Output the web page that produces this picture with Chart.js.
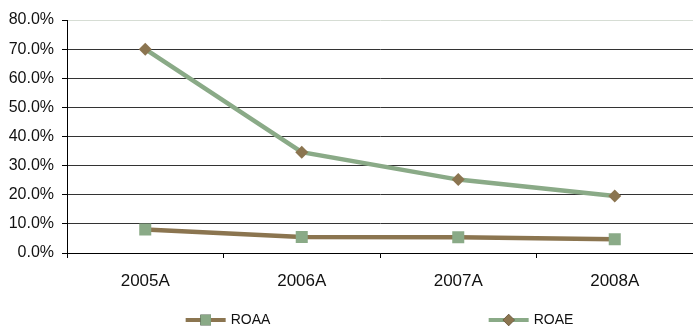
<!DOCTYPE html>
<html>
<head>
<meta charset="utf-8">
<script src="https://cdn.jsdelivr.net/npm/chart.js@4/dist/chart.umd.min.js"></script>
<style>
  html, body { margin: 0; padding: 0; background: #ffffff; }
  #wrap { width: 693px; height: 334px; }
</style>
</head>
<body>
<div id="wrap"><canvas id="c" width="693" height="334"></canvas></div>
<script>
// Return ratios by year, in percent
const years = ['2005A', '2006A', '2007A', '2008A'];
const roaa = [8.1, 5.5, 5.4, 4.7];
const roae = [70.0, 34.6, 25.2, 19.6];
const yTicks = [0, 10, 20, 30, 40, 50, 60, 70, 80];

const GREEN = '#8aaa87';
const BROWN = '#8b7550';
const FONT = 'Liberation Sans, Arial, sans-serif';

// Legend drawn under the plot: line sample with its marker, then the name
const lineLegend = {
  id: 'lineLegend',
  afterDraw(chart) {
    const ctx = chart.ctx;
    const area = chart.chartArea;
    const mid = (area.left + area.right) / 2;
    const y = 320;
    const offsets = [-152, 151];
    chart.data.datasets.forEach((ds, i) => {
      const label = ds.label;
      ctx.save();
      ctx.font = '14px ' + FONT;
      const tw = ctx.measureText(label).width;
      const itemW = 40 + 5 + tw;
      const x0 = mid + offsets[i] - itemW / 2;
      ctx.strokeStyle = ds.borderColor;
      ctx.lineWidth = 4;
      ctx.beginPath();
      ctx.moveTo(x0, y);
      ctx.lineTo(x0 + 40, y);
      ctx.stroke();
      Chart.helpers.drawPoint(ctx, {
        pointStyle: ds.pointStyle,
        radius: ds.legendMarkerRadius,
        borderWidth: 0
      }, x0 + 20, y);
      ctx.fillStyle = ds.pointBackgroundColor;
      ctx.fill();
      ctx.fillStyle = '#111111';
      ctx.textBaseline = 'middle';
      ctx.textAlign = 'left';
      ctx.fillText(label, x0 + 45, y);
      ctx.restore();
    });
  }
};

new Chart(document.getElementById('c'), {
  type: 'line',
  data: {
    labels: years,
    datasets: [
      {
        label: 'ROAA',
        data: roaa,
        borderColor: BROWN,
        borderWidth: 4.5,
        pointStyle: 'rect',
        pointRadius: 8.5,
        legendMarkerRadius: 7.5,
        pointBackgroundColor: GREEN,
        pointBorderWidth: 0,
        tension: 0
      },
      {
        label: 'ROAE',
        data: roae,
        borderColor: GREEN,
        borderWidth: 4.5,
        pointStyle: 'rectRot',
        pointRadius: 6.5,
        legendMarkerRadius: 6,
        pointBackgroundColor: BROWN,
        pointBorderWidth: 0,
        tension: 0
      }
    ]
  },
  options: {
    responsive: false,
    devicePixelRatio: 1,
    animation: false,
    layout: { autoPadding: false, padding: { top: 20, right: -2, left: 0, bottom: 0 } },
    plugins: {
      legend: { display: false },
      tooltip: { enabled: false }
    },
    scales: {
      x: {
        offset: true,
        afterFit(scale) { scale.height = 81; },
        grid: {
          offset: true,
          drawOnChartArea: false,
          drawTicks: true,
          tickLength: 5,
          color: '#000000'
        },
        border: { display: true, color: '#000000', width: 1 },
        ticks: {
          color: '#111111',
          padding: 13,
          font: { family: FONT, size: 17 }
        }
      },
      y: {
        min: 0,
        max: 80,
        afterFit(scale) { scale.width = 67; },
        afterBuildTicks(scale) { scale.ticks = yTicks.map(v => ({ value: v })); },
        grid: {
          color: ctx => (ctx.tick && ctx.tick.value === 80) ? '#d6ddd4' : '#333333',
          tickColor: '#000000',
          tickLength: 5,
          drawTicks: true
        },
        border: { display: true, color: '#000000', width: 1 },
        ticks: {
          color: '#111111',
          padding: 8,
          font: { family: FONT, size: 16 },
          callback: v => v.toFixed(1) + '%'
        }
      }
    }
  },
  plugins: [lineLegend]
});
</script>
</body>
</html>
